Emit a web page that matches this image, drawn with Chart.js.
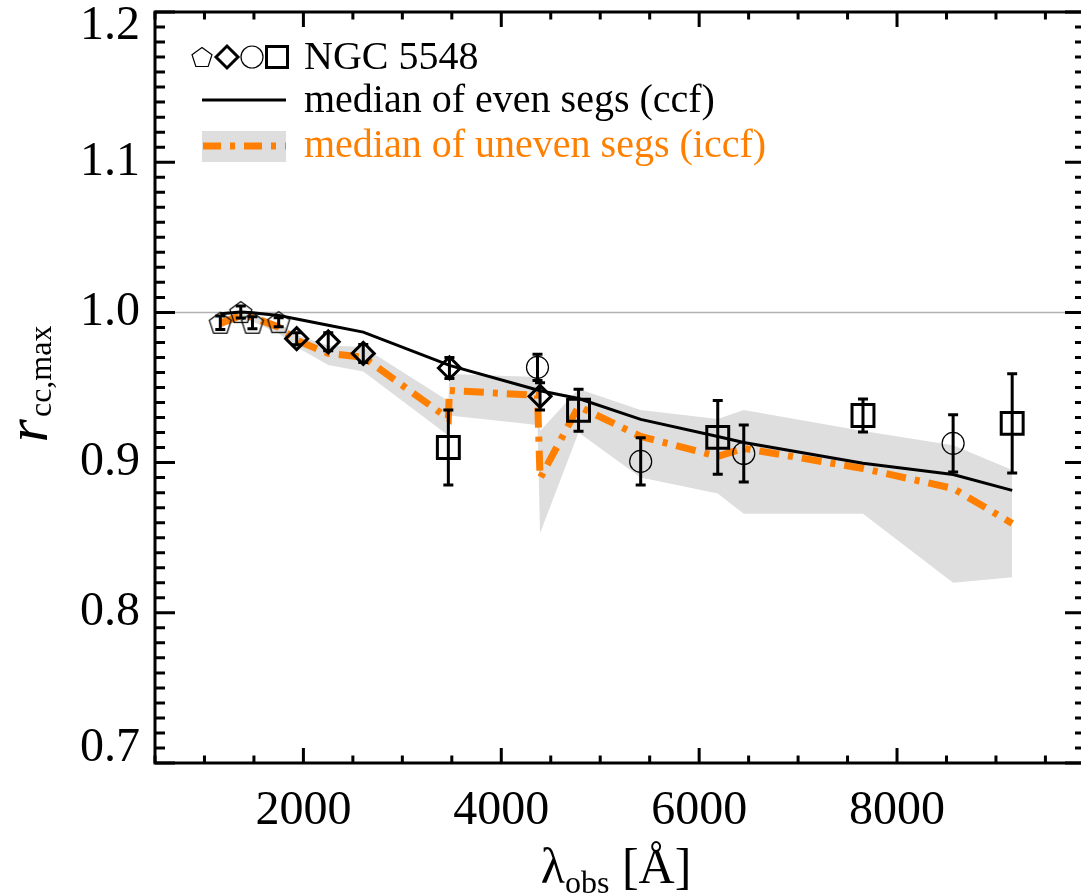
<!DOCTYPE html>
<html>
<head>
<meta charset="utf-8">
<script src="https://cdn.jsdelivr.net/npm/chart.js@4.4.0/dist/chart.umd.min.js"></script>
<style>
html, body { margin: 0; padding: 0; background: #fff; overflow: hidden; }
#wrap { width: 1100px; height: 896px; }
</style>
</head>
<body>
<div id="wrap"><canvas id="rcc" width="1100" height="896"></canvas></div>
<script>
// wavelength grid used by the two median curves and the grey band
const lambdaGrid = [1160, 1367, 1485, 1750, 1932, 2251, 2605, 3465, 3476, 4366, 4392, 4781, 5409, 6188, 6451, 7656, 8567, 9164];
const medianEven = [0.9991, 1.0002, 0.9998, 0.998, 0.9956, 0.9915, 0.9869, 0.965, 0.9647, 0.9483, 0.9478, 0.9427, 0.9288, 0.9174, 0.9134, 0.8995, 0.8921, 0.8815];
const medianUneven = [0.9927, 0.998, 0.9969, 0.9902, 0.9814, 0.9727, 0.9702, 0.9294, 0.9481, 0.9447, 0.8895, 0.9374, 0.9174, 0.9041, 0.9095, 0.8961, 0.8828, 0.8595];
const unevenLow = [0.99, 0.995, 0.994, 0.986, 0.977, 0.965, 0.9607, 0.918, 0.9314, 0.925, 0.853, 0.92, 0.89, 0.8795, 0.866, 0.866, 0.82, 0.8236];
const unevenHigh = [0.996, 1.0, 0.999, 0.993, 0.985, 0.978, 0.977, 0.941, 0.959, 0.957, 0.921, 0.949, 0.935, 0.929, 0.935, 0.921, 0.9115, 0.895];

// NGC 5548 measurements, one list per symbol
const pentX = [1160, 1367, 1485, 1750];
const pentY = [0.9931, 1.0002, 0.9931, 0.9935];
const pentErr = [0.0045, 0.004, 0.004, 0.003];
const diamX = [1932, 2251, 2605, 3476, 4392];
const diamY = [0.9825, 0.9804, 0.9727, 0.963, 0.9441];
const diamErr = [0.004, 0.006, 0.006, 0.007, 0.009];
const circX = [4366, 5409, 6451, 8567];
const circY = [0.9634, 0.9008, 0.9061, 0.9128];
const circErr = [0.0087, 0.0157, 0.019, 0.019];
const sqX = [3465, 4781, 6188, 7656, 9164];
const sqY = [0.9101, 0.9348, 0.9168, 0.9314, 0.9261];
const sqErr = [0.025, 0.014, 0.0246, 0.011, 0.033];

const xTicks = [2000, 4000, 6000, 8000];
const yTicks = [0.7, 0.8, 0.9, 1.0, 1.1, 1.2];

const ORANGE = "rgb(255,127,0)";
const BAND = "rgb(222,222,222)";
const SERIF = "'Liberation Serif', 'DejaVu Serif', serif";

const pts = (xs, ys) => xs.map((x, i) => ({ x: x, y: ys[i] }));

// open pentagon used as point style
function pentagonImg() {
  const c = document.createElement("canvas");
  c.width = 28; c.height = 28;
  const g = c.getContext("2d");
  drawPentagon(g, 14, 15, 11.5);
  return c;
}
function drawPentagon(g, cx, cy, r) {
  g.save();
  g.strokeStyle = "#000"; g.lineWidth = 1.2;
  g.beginPath();
  for (let k = 0; k < 5; k++) {
    const a = -Math.PI / 2 + k * 2 * Math.PI / 5;
    const px = cx + r * Math.cos(a), py = cy + r * Math.sin(a);
    if (k === 0) g.moveTo(px, py); else g.lineTo(px, py);
  }
  g.closePath(); g.stroke();
  g.restore();
}

const decor = {
  id: "decor",
  beforeDatasetsDraw(chart) {
    const { ctx, chartArea: a, scales: { y } } = chart;
    const py = y.getPixelForValue(1.0);
    ctx.save();
    ctx.strokeStyle = "rgb(178,178,178)"; ctx.lineWidth = 1.5;
    ctx.beginPath(); ctx.moveTo(a.left, py); ctx.lineTo(a.right, py); ctx.stroke();
    ctx.restore();
  },
  afterDatasetsDraw(chart) {
    // error bars
    const { ctx, scales: { y } } = chart;
    ctx.save();
    ctx.strokeStyle = "#000"; ctx.lineWidth = 3;
    chart.data.datasets.forEach((ds, i) => {
      if (!ds.errors) return;
      const meta = chart.getDatasetMeta(i);
      ds.data.forEach((p, j) => {
        const x = meta.data[j].x;
        const y1 = y.getPixelForValue(p.y + ds.errors[j]);
        const y2 = y.getPixelForValue(p.y - ds.errors[j]);
        ctx.beginPath();
        ctx.moveTo(x, y1); ctx.lineTo(x, y2);
        ctx.moveTo(x - 5, y1); ctx.lineTo(x + 5, y1);
        ctx.moveTo(x - 5, y2); ctx.lineTo(x + 5, y2);
        ctx.stroke();
      });
    });
    ctx.restore();
  },
  afterDraw(chart) {
    const { ctx, chartArea: a, scales: { x, y } } = chart;
    ctx.save();
    ctx.strokeStyle = "#000"; ctx.lineWidth = 3;
    ctx.strokeRect(a.left, a.top, a.right - a.left, a.bottom - a.top);
    ctx.beginPath();
    for (let v = 500; v <= 9900; v += 500) {
      const px = x.getPixelForValue(v);
      const len = v % 2000 === 0 ? 15 : 7.5;
      ctx.moveTo(px, a.bottom); ctx.lineTo(px, a.bottom - len);
      ctx.moveTo(px, a.top); ctx.lineTo(px, a.top + len);
    }
    for (let k = 70; k <= 120; k++) {
      const py = y.getPixelForValue(k / 100);
      const len = k % 10 === 0 ? 20 : 10;
      ctx.moveTo(a.left, py); ctx.lineTo(a.left + len, py);
      ctx.moveTo(a.right, py); ctx.lineTo(a.right - len, py);
    }
    ctx.stroke();

    ctx.fillStyle = "#000";
    // y tick labels, kept inside the axis span at both ends
    ctx.font = "48px " + SERIF;
    ctx.textAlign = "right";
    ctx.textBaseline = "middle";
    yTicks.forEach((v) => {
      const py = Math.min(Math.max(y.getPixelForValue(v), a.top + 14), a.bottom - 15);
      ctx.fillText(v.toFixed(1), a.left - 15, py);
    });

    // x title: lambda_obs [Å]
    ctx.textBaseline = "alphabetic";
    ctx.textAlign = "left";
    const big = "50px " + SERIF, small = "32px " + SERIF;
    ctx.font = big; const w1 = ctx.measureText("λ").width; const w3 = ctx.measureText(" [Å]").width;
    ctx.font = small; const w2 = ctx.measureText("obs").width;
    let tx = 616 - (w1 + w2 + w3) / 2;
    ctx.font = big; ctx.fillText("λ", tx, 883); tx += w1;
    ctx.font = small; ctx.fillText("obs", tx, 893); tx += w2;
    ctx.font = big; ctx.fillText(" [Å]", tx, 883);

    // y title: r_cc,max
    ctx.save();
    ctx.translate(47, 385);
    ctx.rotate(-Math.PI / 2);
    const rf = "italic 60px " + SERIF, sf = "32px " + SERIF;
    ctx.font = rf; const r1 = ctx.measureText("r").width;
    ctx.font = sf; const r2 = ctx.measureText("cc,max").width;
    let ty = -(r1 + r2) / 2;
    ctx.font = rf; ctx.fillText("r", ty, 0); ty += r1 + 2;
    ctx.font = sf; ctx.fillText("cc,max", ty, 4);
    ctx.restore();

    // legend
    drawPentagon(ctx, 202, 58, 10.5);
    ctx.lineWidth = 3;
    ctx.beginPath();
    ctx.moveTo(216, 57); ctx.lineTo(227, 46); ctx.lineTo(238, 57); ctx.lineTo(227, 68); ctx.closePath();
    ctx.stroke();
    ctx.lineWidth = 1.2;
    ctx.beginPath(); ctx.arc(252, 57, 11, 0, 2 * Math.PI); ctx.stroke();
    ctx.lineWidth = 3;
    ctx.strokeRect(266.5, 46.5, 21, 21);

    ctx.beginPath(); ctx.moveTo(202, 100); ctx.lineTo(286, 100); ctx.stroke();

    ctx.fillStyle = BAND; ctx.fillRect(202, 131, 84, 31);
    ctx.strokeStyle = ORANGE; ctx.lineWidth = 7; ctx.setLineDash([18, 9, 5, 9]);
    ctx.beginPath(); ctx.moveTo(203, 146); ctx.lineTo(286, 146); ctx.stroke();
    ctx.setLineDash([]);

    ctx.font = "40px " + SERIF;
    ctx.fillStyle = "#000";
    ctx.fillText("NGC 5548", 304, 69);
    ctx.fillText("median of even segs (ccf)", 304, 112);
    ctx.fillStyle = ORANGE;
    ctx.fillText("median of uneven segs (iccf)", 304, 157);
    ctx.restore();
  }
};

const ctx = document.getElementById("rcc");

new Chart(ctx, {
  type: "line",
  data: {
    datasets: [
      { label: "band low", data: pts(lambdaGrid, unevenLow), borderColor: "rgba(0,0,0,0)", pointRadius: 0, fill: false, order: 10 },
      { label: "band high", data: pts(lambdaGrid, unevenHigh), borderColor: "rgba(0,0,0,0)", backgroundColor: BAND, pointRadius: 0, fill: "-1", order: 9 },
      { label: "median of uneven segs (iccf)", data: pts(lambdaGrid, medianUneven), borderColor: ORANGE, borderWidth: 7, borderDash: [20, 9, 5, 9], pointRadius: 0, fill: false, order: 8 },
      { label: "median of even segs (ccf)", data: pts(lambdaGrid, medianEven), borderColor: "#000", borderWidth: 3, pointRadius: 0, fill: false, order: 7 },
      { label: "pentagons", data: pts(pentX, pentY), errors: pentErr, showLine: false, pointStyle: pentagonImg(), pointRadius: 11, order: 4 },
      { label: "diamonds", data: pts(diamX, diamY), errors: diamErr, showLine: false, pointStyle: "rectRot", pointRadius: 11, pointBorderWidth: 3, pointBorderColor: "#000", pointBackgroundColor: "rgba(0,0,0,0)", order: 3 },
      { label: "circles", data: pts(circX, circY), errors: circErr, showLine: false, pointStyle: "circle", pointRadius: 11, pointBorderWidth: 1.2, pointBorderColor: "#000", pointBackgroundColor: "rgba(0,0,0,0)", order: 2 },
      { label: "squares", data: pts(sqX, sqY), errors: sqErr, showLine: false, pointStyle: "rect", pointRadius: 15.5, pointBorderWidth: 3, pointBorderColor: "#000", pointBackgroundColor: "rgba(0,0,0,0)", order: 1 }
    ]
  },
  options: {
    responsive: false,
    animation: false,
    layout: { autoPadding: false, padding: { top: 12, right: 15, left: 0, bottom: 0 } },
    elements: { line: { tension: 0 } },
    plugins: { legend: { display: false }, tooltip: { enabled: false } },
    scales: {
      x: {
        type: "linear", min: 500, max: 9900,
        grid: { display: false, drawTicks: false }, border: { display: false },
        afterBuildTicks: (s) => { s.ticks = xTicks.map((v) => ({ value: v })); },
        afterFit: (s) => { s.height = 133; s.paddingLeft = 0; s.paddingRight = 0; },
        ticks: { font: { family: SERIF, size: 48 }, color: "#000", padding: 20, maxRotation: 0, autoSkip: false, callback: (v) => String(v) }
      },
      y: {
        type: "linear", min: 0.7, max: 1.2,
        grid: { display: false, drawTicks: false }, border: { display: false },
        afterBuildTicks: (s) => { s.ticks = yTicks.map((v) => ({ value: v })); },
        afterFit: (s) => { s.width = 155; s.paddingTop = 0; s.paddingBottom = 0; },
        ticks: { display: false }
      }
    }
  },
  plugins: [decor]
});
</script>
</body>
</html>
